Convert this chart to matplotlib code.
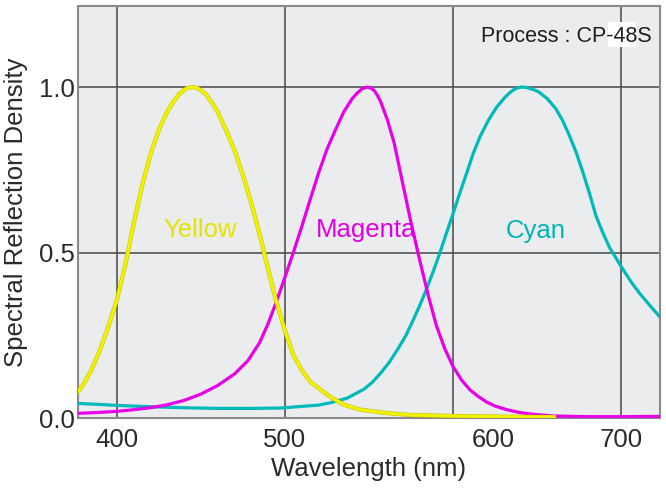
import matplotlib
matplotlib.use("Agg")
import matplotlib.pyplot as plt
from matplotlib.patches import Rectangle
import matplotlib.patheffects as pe

plt.rcParams['font.family'] = ['Liberation Sans', 'DejaVu Sans']

# ---- data ----
yellow_nm = [377, 380, 385, 390, 395, 400, 405, 410, 415, 420, 425, 430, 433, 437, 440, 442,
             445, 448, 450, 453, 457, 460, 465, 470, 475, 480, 485, 490, 495, 500, 505, 510,
             515, 520, 527, 535, 545, 560, 575, 600, 630, 660]
yellow_d = [0.08, 0.10, 0.145, 0.205, 0.275, 0.355, 0.46, 0.585, 0.70, 0.795, 0.87, 0.925,
            0.95, 0.978, 0.991, 0.997, 1.00, 0.997, 0.991, 0.978, 0.95, 0.925, 0.87, 0.81,
            0.735, 0.65, 0.555, 0.45, 0.35, 0.265, 0.19, 0.145, 0.11, 0.09, 0.064, 0.04,
            0.025, 0.015, 0.009, 0.006, 0.004, 0.003]

magenta_nm = [377, 390, 400, 410, 420, 430, 440, 450, 460, 470, 478, 485, 490, 495, 500,
              505, 510, 515, 520, 525, 530, 535, 540, 543, 546, 549, 551, 553, 555, 557, 561,
              565, 570, 575, 580, 585, 590, 595, 600, 605, 610, 615, 620, 625, 632, 640, 650,
              660, 680, 700, 723]
magenta_d = [0.014, 0.017, 0.020, 0.025, 0.031, 0.040, 0.053, 0.072, 0.098, 0.133, 0.173,
             0.228, 0.285, 0.352, 0.425, 0.50, 0.578, 0.66, 0.74, 0.812, 0.87, 0.925, 0.965,
             0.982, 0.995, 1.00, 0.997, 0.99, 0.975, 0.955, 0.90, 0.83, 0.71, 0.59, 0.48,
             0.375, 0.28, 0.21, 0.155, 0.115, 0.085, 0.065, 0.048, 0.036, 0.025, 0.016,
             0.010, 0.006, 0.004, 0.004, 0.005]

cyan_nm = [377, 390, 400, 420, 440, 460, 480, 497, 510, 520, 527, 537, 547, 552, 557, 562,
           567, 572, 576, 580, 584, 588, 592, 596, 600, 604, 608, 612, 616, 621, 626, 631,
           633.5, 636, 638.5, 641, 643.5, 646, 648.5, 651, 656, 661, 665, 669, 673, 677, 681,
           685, 689, 693, 700, 706, 711, 717, 723]
cyan_d = [0.044, 0.041, 0.038, 0.034, 0.031, 0.029, 0.029, 0.030, 0.035, 0.039, 0.046,
          0.060, 0.087, 0.108, 0.136, 0.168, 0.207, 0.25, 0.293, 0.338, 0.387, 0.44, 0.497,
          0.558, 0.618, 0.68, 0.739, 0.80, 0.85, 0.90, 0.94, 0.97, 0.982, 0.992, 0.998, 1.0,
          0.999, 0.995, 0.991, 0.985, 0.965, 0.935, 0.90, 0.855, 0.805, 0.745, 0.68, 0.61,
          0.56, 0.515, 0.457, 0.41, 0.376, 0.34, 0.305]

x_tick_labels = ['400', '500', '600', '700']
x_grid = [400, 500, 600, 700]
x_label_pos = [400, 500, 623.6, 700]   # the "600" label sits right of its grid line in the reference
y_ticks = [0.0, 0.5, 1.0]
y_tick_labels = ['0.0', '0.5', '1.0']

series_names = ['Yellow', 'Magenta', 'Cyan']
label_x = [449.5, 548, 649]
label_y = [0.548, 0.548, 0.545]

# ---- figure ----
fig = plt.figure(figsize=(6.66, 4.90), dpi=100)
ax = fig.add_axes([78/666, 72/490, (660-78)/666, (418-6)/490])
ax.set_facecolor('#ebecee')
ax.set_xlim(377, 723)
ax.set_ylim(0, 1.245)

ax.set_xticks(x_label_pos)
ax.set_xticklabels(x_tick_labels)
ax.set_yticks(y_ticks)
ax.set_yticklabels(y_tick_labels)
ax.grid(False)
for xv in x_grid:
    ax.axvline(xv, color='#474747', lw=1.1, zorder=1)
for yv in y_ticks[1:]:
    ax.axhline(yv, color='#474747', lw=1.1, zorder=1)
ax.tick_params(axis='both', which='both', length=0, labelsize=18.5, colors='#2a2a2a')
ax.tick_params(axis='x', pad=7)
ax.tick_params(axis='y', pad=2)

for s in ax.spines.values():
    s.set_color('#8a8a8a')
    s.set_linewidth(1.5)

lw = 2.3
ax.plot(cyan_nm, cyan_d, color='#00b9b9', lw=lw, zorder=3, solid_joinstyle='round')
ax.plot(magenta_nm, magenta_d, color='#e800e8', lw=lw, zorder=4, solid_joinstyle='round')
ax.plot(yellow_nm, yellow_d, color='#f2f200', lw=lw, zorder=5, solid_joinstyle='round',
        path_effects=[pe.Stroke(linewidth=lw + 0.7, foreground='#c0c000'), pe.Normal()])

text_colors = ['#e4e400', '#e000e0', '#00b5b5']
for name, x, y, c in zip(series_names, label_x, label_y, text_colors):
    ax.text(x, y, name, color=c, fontsize=18.5, ha='center', va='baseline', zorder=6)

# white patch behind part of the process label (as in the reference)
ax.add_patch(Rectangle((692, 1.121), 16.5, 0.075, facecolor='white', edgecolor='none', zorder=2))
ax.text(718, 1.136, 'Process : CP-48S', fontsize=15.5, ha='right', va='baseline',
        color='#1e1e1e', zorder=6)

ax.set_xlabel('Wavelength (nm)', fontsize=18.5, color='#2a2a2a', labelpad=4)
ax.set_ylabel('Spectral Reflection Density', fontsize=18.5, color='#2a2a2a', labelpad=8)

fig.savefig('out.png', dpi=100, facecolor='white')
